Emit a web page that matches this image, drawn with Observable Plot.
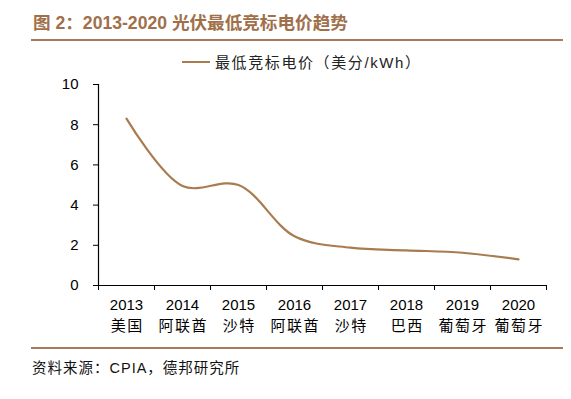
<!DOCTYPE html>
<html>
<head>
<meta charset="utf-8">
<script src="https://cdn.jsdelivr.net/npm/d3@7"></script>
<script src="https://cdn.jsdelivr.net/npm/@observablehq/plot@0.6"></script>
<style>
  html, body { margin: 0; padding: 0; background: #fff; }
  #wrap { position: relative; width: 571px; height: 399px; overflow: hidden; font-family: "Liberation Sans", "Noto Sans CJK SC", sans-serif; }
  #chart { position: absolute; left: 0; top: 0; }
  .title { position: absolute; left: 33px; top: 9px; font-size: 17.6px; font-weight: bold; color: #A0704A; white-space: nowrap; }
  .rule { position: absolute; left: 31px; width: 532px; height: 2px; background: #A67A5A; }
  .legend { position: absolute; left: 182px; top: 51px; font-size: 15px; color: #222; white-space: nowrap; display: flex; align-items: center; letter-spacing: 1.6px; }
  .legend .sw { display: inline-block; width: 28px; height: 2px; background: #A97C50; margin-right: 5px; }
  .source { position: absolute; left: 32px; top: 356px; font-size: 14.5px; color: #111; white-space: nowrap; letter-spacing: 1px; }
</style>
</head>
<body>
<div id="wrap">
  <div class="title">图 2：2013-2020 光伏最低竞标电价趋势</div>
  <div class="rule" style="top:39px"></div>
  <div class="legend"><span class="sw"></span><span>最低竞标电价（美分/kWh）</span></div>
  <div id="chart"></div>
  <div class="rule" style="top:347px"></div>
  <div class="source">资料来源：CPIA，德邦研究所</div>
</div>
<script>
const years = ["2013", "2014", "2015", "2016", "2017", "2018", "2019", "2020"];
const countries = ["美国", "阿联酋", "沙特", "阿联酋", "沙特", "巴西", "葡萄牙", "葡萄牙"];
const prices = [8.3, 4.95, 5.0, 2.45, 1.88, 1.75, 1.63, 1.3];
const yTicks = [0, 2, 4, 6, 8, 10];

const data = years.map((y, i) => ({ i, year: y, country: countries[i], price: prices[i] }));
const boundaries = years.map((_, i) => i - 0.5).concat([years.length - 0.5]);
const xDomain = [-0.5, years.length - 0.5];

const chart = Plot.plot({
  width: 571,
  height: 340,
  marginTop: 84,
  marginBottom: 55,
  marginLeft: 98,
  marginRight: 25,
  style: { fontFamily: '"Liberation Sans", "Noto Sans CJK SC", sans-serif', fontSize: "15px", color: "#000", background: "transparent" },
  x: { domain: xDomain },
  y: { domain: [0, 10] },
  marks: [
    Plot.axisY({ ticks: yTicks, tickSize: 5, tickPadding: 15, fontSize: 15, label: null, stroke: "#000" }),
    Plot.axisX({ ticks: boundaries, tickSize: 5, tickFormat: () => "", label: null, stroke: "#000" }),
    Plot.ruleX([xDomain[0]], { y1: 0, y2: 10, stroke: "#000", strokeWidth: 1.2 }),
    Plot.ruleY([0], { x1: xDomain[0], x2: xDomain[1], stroke: "#000", strokeWidth: 1.2 }),
    Plot.text(data, { x: "i", y: () => 0, text: "year", dy: 20, fontSize: 15, fill: "#000" }),
    Plot.text(data, { x: "i", y: () => 0, text: "country", dy: 41, dx: 0.75, fontSize: 15, fill: "#000" }),
    Plot.line(data, { x: "i", y: "price", curve: "catmull-rom", stroke: "#A97C50", strokeWidth: 2.2 })
  ]
});
// widen the spacing of the country labels (second text mark)
const textGroups = chart.querySelectorAll('g[aria-label="text"]');
if (textGroups.length > 1) textGroups[1].setAttribute("letter-spacing", "1.5px");
document.getElementById("chart").appendChild(chart);
</script>
</body>
</html>
